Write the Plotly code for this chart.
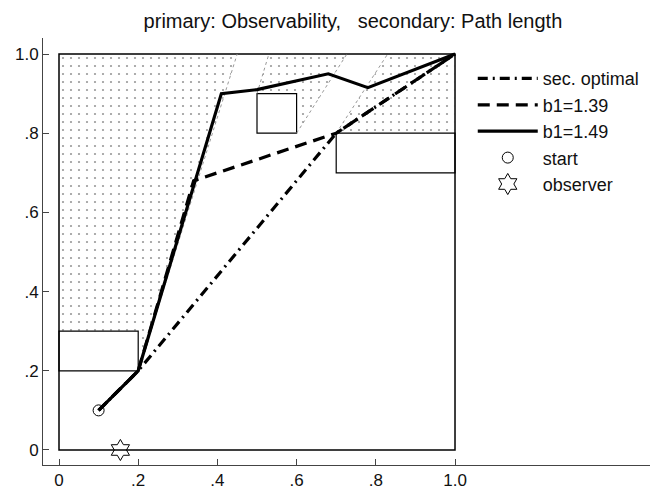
import plotly.graph_objects as go

# ---- data ----
tick_vals = [0, 0.2, 0.4, 0.6, 0.8, 1.0]
tick_text = ["0", ".2", ".4", ".6", ".8", "1.0"]

# obstacles (rectangles)
box_x0 = [0.0, 0.5, 0.7]
box_x1 = [0.2, 0.6, 1.0]
box_y0 = [0.2, 0.8, 0.7]
box_y1 = [0.3, 0.9, 0.8]

# unobservable (shadow) regions, dotted
shadow1_x = [0.0, 0.2, 0.2, 0.45, 0.0]
shadow1_y = [0.3, 0.3, 0.2, 1.0, 1.0]
shadow2_x = [0.5, 0.6, 0.6, 0.727, 0.53]
shadow2_y = [0.9, 0.9, 0.8, 1.0, 1.0]
shadow3_x = [0.7, 1.0, 1.0, 0.83]
shadow3_y = [0.8, 0.8, 1.0, 1.0]

# shadow boundary rays (grey)
ray_x0 = [0.2, 0.5, 0.6, 0.7]
ray_y0 = [0.2, 0.9, 0.8, 0.8]
ray_x1 = [0.45, 0.53, 0.727, 0.83]
ray_y1 = [1.0, 1.0, 1.0, 1.0]

# paths
opt_x = [0.1, 0.2, 0.7, 1.0]
opt_y = [0.1, 0.2, 0.8, 1.0]
b139_x = [0.1, 0.2, 0.34, 0.7, 1.0]
b139_y = [0.1, 0.2, 0.68, 0.8, 1.0]
b149_x = [0.1, 0.2, 0.41, 0.5, 0.68, 0.78, 1.0]
b149_y = [0.1, 0.2, 0.9, 0.91, 0.95, 0.915, 1.0]

start_x, start_y = [0.1], [0.1]
obs_x, obs_y = [0.155], [0.0]

FONT = "Liberation Sans, Arial, Helvetica, sans-serif"

fig = go.Figure()

for sx, sy in [(shadow1_x, shadow1_y), (shadow2_x, shadow2_y), (shadow3_x, shadow3_y)]:
    fig.add_trace(go.Scatter(
        x=sx, y=sy, mode="none", fill="toself",
        fillcolor="rgba(0,0,0,0)",
        fillpattern=dict(shape=".", size=8, solidity=0.06,
                         fgcolor="#333", bgcolor="rgba(0,0,0,0)"),
        showlegend=False, hoverinfo="skip"))

for i in range(len(ray_x0)):
    fig.add_trace(go.Scatter(
        x=[ray_x0[i], ray_x1[i]], y=[ray_y0[i], ray_y1[i]], mode="lines",
        line=dict(color="#999", width=1, dash="dot"),
        showlegend=False, hoverinfo="skip"))

fig.add_trace(go.Scatter(x=opt_x, y=opt_y, mode="lines", name="sec. optimal",
                         line=dict(color="black", width=3.2, dash="10px,5px,2px,5px")))
fig.add_trace(go.Scatter(x=b139_x, y=b139_y, mode="lines", name="b1=1.39",
                         line=dict(color="black", width=3.2, dash="12px,7px")))
fig.add_trace(go.Scatter(x=b149_x, y=b149_y, mode="lines", name="b1=1.49",
                         line=dict(color="black", width=3.2)))
fig.add_trace(go.Scatter(x=start_x, y=start_y, mode="markers", name="start",
                         marker=dict(symbol="circle-open", size=11,
                                     color="black", line=dict(width=1))))
fig.add_trace(go.Scatter(x=obs_x, y=obs_y, mode="markers", name="observer",
                         marker=dict(symbol="hexagram-open", size=16,
                                     color="black", line=dict(width=1))))

shapes = []
for i in range(len(box_x0)):
    shapes.append(dict(type="rect", xref="x", yref="y",
                       x0=box_x0[i], x1=box_x1[i], y0=box_y0[i], y1=box_y1[i],
                       line=dict(color="black", width=1.2), layer="below"))
# workspace frame
shapes.append(dict(type="rect", xref="x", yref="y", x0=0, x1=1, y0=0, y1=1,
                   line=dict(color="black", width=1.5), layer="below"))

axis_common = dict(
    showgrid=False, zeroline=False, showline=True, linecolor="#444", linewidth=1,
    ticks="inside", ticklen=6, tickcolor="#444", tickwidth=1,
    tickvals=tick_vals, ticktext=tick_text,
    tickfont=dict(family=FONT, size=17, color="#111"),
    fixedrange=True, automargin=False,
)

fig.update_layout(
    width=650, height=496,
    margin=dict(l=43, r=0, t=38, b=31),
    paper_bgcolor="white", plot_bgcolor="white",
    shapes=shapes,
    xaxis=dict(range=[-0.0404, 1.4924], **axis_common),
    yaxis=dict(range=[-0.0379, 1.0404], **axis_common),
    title=dict(text="primary: Observability,   secondary: Path length",
               x=0.543, xref="container", xanchor="center",
               y=0.958, yref="container", yanchor="middle",
               font=dict(family=FONT, size=20, color="#111")),
    legend=dict(x=0.708, y=0.948, xanchor="left", yanchor="top",
                font=dict(family=FONT, size=18, color="#111"),
                bgcolor="rgba(0,0,0,0)", borderwidth=0, itemwidth=60),
    showlegend=True,
)

fig.write_html("out.html", config={"displayModeBar": False})
